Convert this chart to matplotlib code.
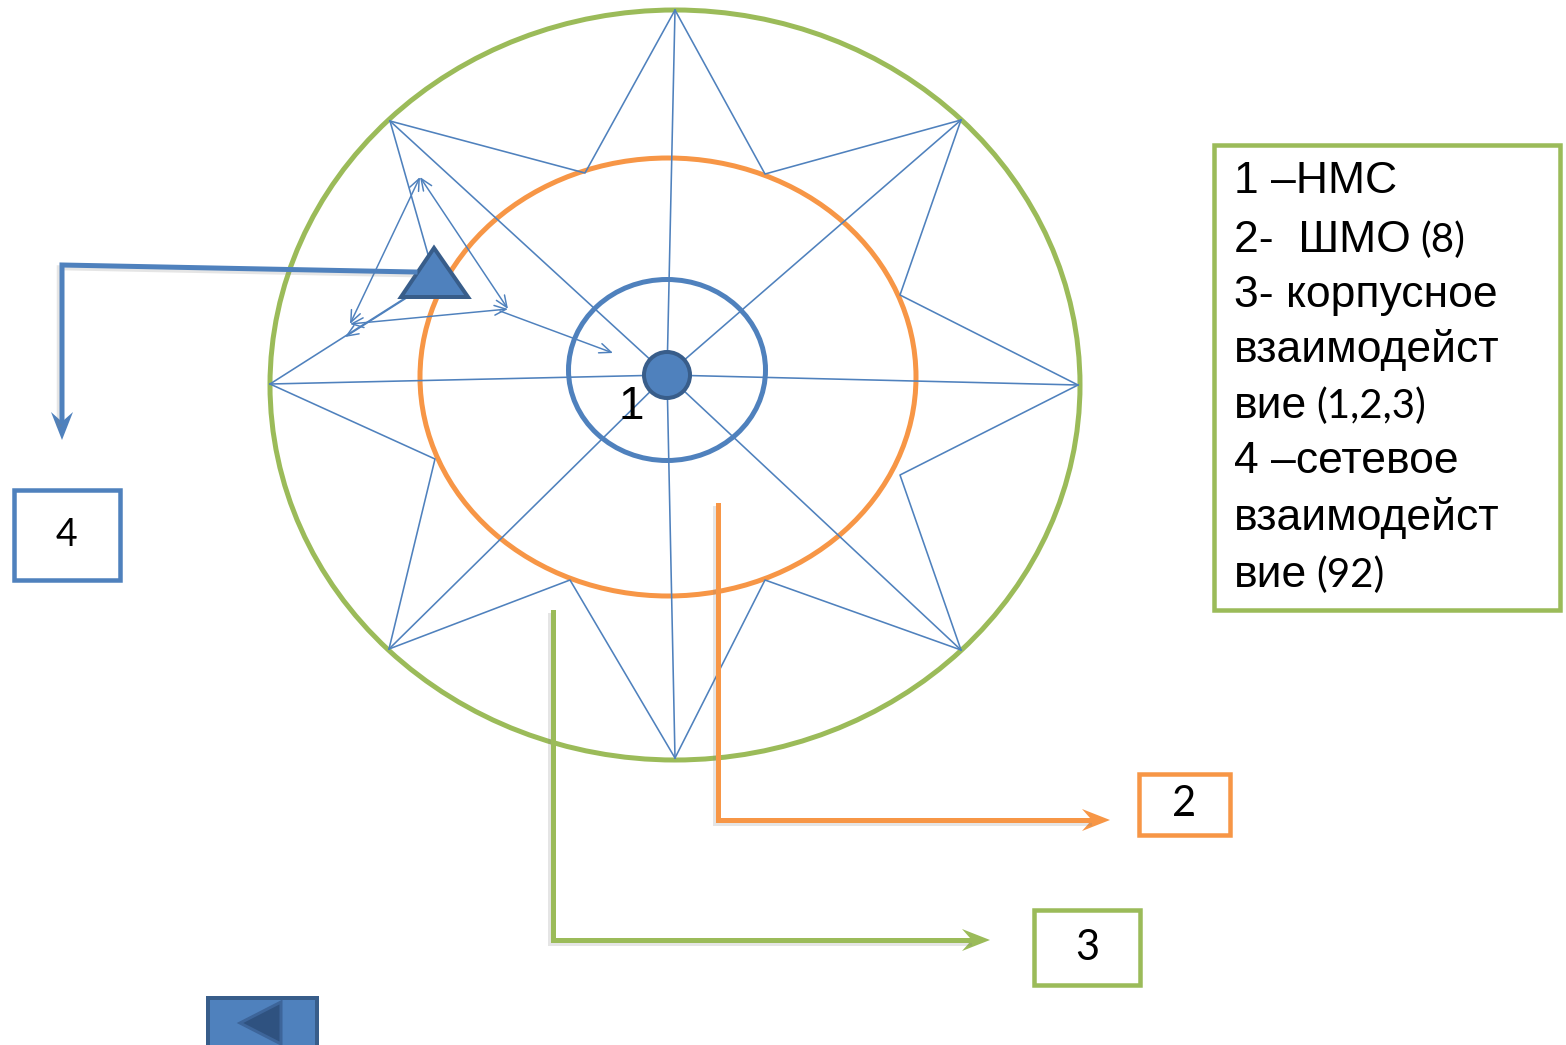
import numpy as np
import matplotlib.pyplot as plt
from matplotlib.patches import Ellipse, Circle, Rectangle, Polygon
import matplotlib.patheffects as pe

W, H = 1566, 1045
BLUE = '#4F81BD'
DARK = '#385D8A'
ORANGE = '#F79646'
GREEN = '#9BBB59'

# кольца: центр, ширина/высота
ring_centers = [(675, 385), (668, 377), (667, 370)]
ring_sizes = [(810, 750), (496, 438), (197, 181)]
ring_colors = [GREEN, ORANGE, BLUE]

# звезда: внешние и внутренние вершины
outer_pts = [(675, 10), (961, 120), (1078, 385), (961, 650),
             (675, 758), (389, 649), (270, 384), (390, 121)]
inner_pts = [(765, 174), (900, 295), (900, 475), (765, 580),
             (570, 580), (435, 459), (435, 279), (585, 173)]
hub = (667, 375)
hub_r = 23

# ШМО-треугольник и сетевые стрелки
tri_pts = [(434, 248), (401, 297), (468, 297)]
net_arrows = [((350, 324), (420, 177), '<->'),
              ((420, 177), (508, 309), '<->'),
              ((350, 324), (508, 309), '<->'),
              ((500, 311), (613, 353), '->'),
              ((408, 297), (345, 337), '->')]

# выноски к номерам
conn_paths = [[(415, 272), (62, 265), (62, 440)],
              [(718, 505), (718, 820), (1110, 820)],
              [(553, 612), (553, 940), (990, 940)]]
conn_colors = [BLUE, ORANGE, GREEN]

# рамки с номерами: x0, y0, x1, y1
boxes = [(14, 490, 120, 580), (1139, 774, 1230, 835), (1034, 910, 1140, 985)]
box_labels = ['4', '2', '3']
box_colors = [BLUE, ORANGE, GREEN]
box_fs = [27, 30, 30]

legend_box = (1214, 145, 1560, 610)
legend_main = ['1 –НМС', '2-  ШМО', '3- корпусное', 'взаимодейст',
               'вие', '4 –сетевое', 'взаимодейст', 'вие']
legend_extra = ['', '(8)', '', '', '(1,2,3)', '', '', '(92)']
legend_base = [193, 252, 307, 362, 418, 473, 530, 587]
legend_x = 1234

PX = 0.72  # пиксели -> пункты при dpi=100

fig = plt.figure(figsize=(W / 100, H / 100), dpi=100)
ax = fig.add_axes([0, 0, 1, 1])
ax.set_xlim(0, W)
ax.set_ylim(H, 0)
ax.axis('off')

for c, s, col in zip(ring_centers, ring_sizes, ring_colors):
    ax.add_patch(Ellipse(c, s[0], s[1], fill=False, ec=col, lw=5 * PX, zorder=2))

# лучи звезды
n = len(outer_pts)
for i in range(n):
    a, b, c = outer_pts[i], inner_pts[i], outer_pts[(i + 1) % n]
    ax.plot([a[0], b[0], c[0]], [a[1], b[1], c[1]], color=BLUE, lw=1.6 * PX, zorder=3)
    ax.plot([a[0], hub[0]], [a[1], hub[1]], color=BLUE, lw=1.6 * PX, zorder=3)

ax.add_patch(Circle(hub, hub_r, fc=BLUE, ec=DARK, lw=4 * PX, zorder=5))
ax.text(631, 407, '1', fontsize=33, family='Liberation Sans', ha='center', va='center', zorder=6)

for p0, p1, st in net_arrows:
    ax.annotate('', xy=p1, xytext=p0,
                arrowprops=dict(arrowstyle=st + ',head_length=0.6,head_width=0.25',
                                color=BLUE, lw=1.5 * PX, shrinkA=0, shrinkB=0,
                                mutation_scale=14), zorder=4)

ax.add_patch(Polygon(tri_pts, closed=True, fc=BLUE, ec=DARK, lw=4 * PX,
                     joinstyle='miter', zorder=7))

shadow = [pe.SimpleLineShadow(offset=(-2, -2), shadow_color='gray', alpha=0.2), pe.Normal()]


def stealth(tip, prev, color, length=28, width=22):
    tip = np.array(tip, float)
    d = tip - np.array(prev, float)
    d /= np.hypot(*d)
    nrm = np.array([-d[1], d[0]])
    back = tip - d * length
    notch = tip - d * length * 0.65
    pts = [tip, back + nrm * width / 2, notch, back - nrm * width / 2]
    ax.add_patch(Polygon(pts, closed=True, fc=color, ec='none', zorder=8))
    return notch


for path, col in zip(conn_paths, conn_colors):
    notch = stealth(path[-1], path[-2], col)
    xs = [p[0] for p in path[:-1]] + [notch[0]]
    ys = [p[1] for p in path[:-1]] + [notch[1]]
    ax.plot(xs, ys, color=col, lw=5 * PX, zorder=8, solid_joinstyle='miter',
            path_effects=shadow)

for (x0, y0, x1, y1), lab, col, fs in zip(boxes, box_labels, box_colors, box_fs):
    ax.add_patch(Rectangle((x0, y0), x1 - x0, y1 - y0, fill=False, ec=col, lw=4.5 * PX, zorder=8))
    ax.text((x0 + x1) / 2, (y0 + y1) / 2, lab, fontsize=fs, family='Lato',
            ha='center', va='center', zorder=9)

x0, y0, x1, y1 = legend_box
ax.add_patch(Rectangle((x0, y0), x1 - x0, y1 - y0, fill=False, ec=GREEN, lw=4.5 * PX, zorder=8))

fig.canvas.draw()
r = fig.canvas.get_renderer()
inv = ax.transData.inverted()
for main, extra, yb in zip(legend_main, legend_extra, legend_base):
    t = ax.text(legend_x, yb, main, fontsize=32, family='Liberation Sans',
                ha='left', va='baseline', zorder=9)
    if extra:
        bb = t.get_window_extent(renderer=r)
        xe = inv.transform((bb.x1, bb.y0))[0]
        ax.text(xe + 9, yb, extra, fontsize=29, family='Lato',
                ha='left', va='baseline', zorder=9)

# кнопка "назад"
ax.add_patch(Rectangle((208, 998), 109, 60, fc=BLUE, ec=DARK, lw=4 * PX, zorder=8))
ax.add_patch(Polygon([(240, 1023), (281, 1002), (281, 1044)], closed=True,
                     fc='#2F5280', ec='#3D659A', lw=3 * PX, zorder=9))

fig.savefig('out.png', dpi=100)
